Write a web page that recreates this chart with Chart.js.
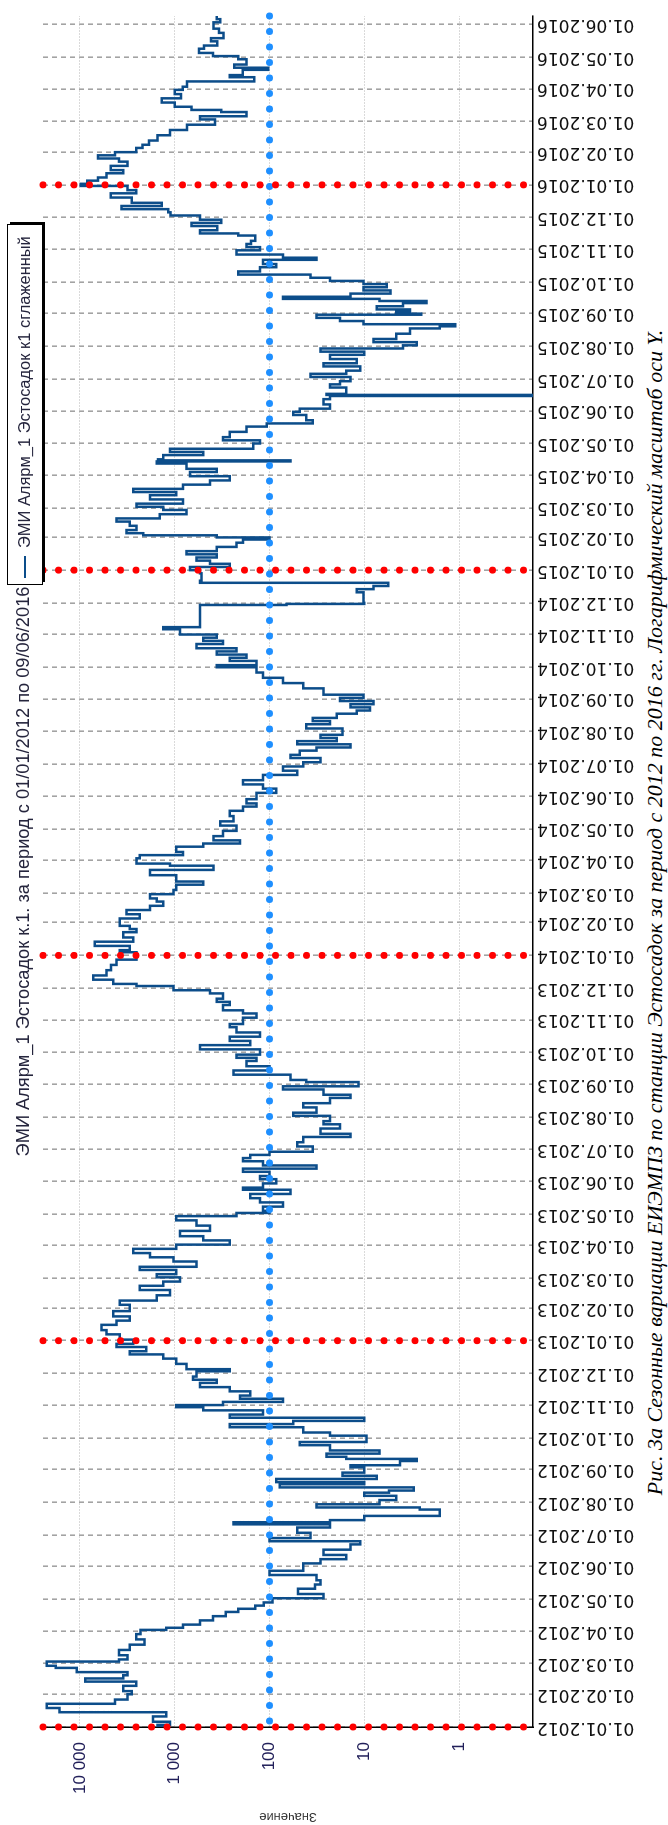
<!DOCTYPE html>
<html>
<head>
<meta charset="utf-8">
<script src="https://cdn.jsdelivr.net/npm/chart.js@4.4.1/dist/chart.umd.min.js"></script>
<style>
  html, body { margin: 0; padding: 0; background: #fff; overflow: hidden; }
  body { width: 668px; height: 1825px; position: relative; }
  /* the figure is laid out landscape and turned a quarter turn counter-clockwise */
  #page { position: absolute; left: 0; top: 1825px; width: 1825px; height: 668px;
          transform-origin: 0 0; transform: rotate(-90deg); background: #fff; }
  #wrap { position: absolute; left: 0; top: 0; width: 1825px; height: 640px; }
  #caption { position: absolute; left: 0; top: 641px; width: 1825px; height: 27px; line-height: 27px;
             text-align: center; white-space: nowrap; color: #000;
             font-family: "Liberation Serif", "Times New Roman", serif; font-style: italic; font-size: 22px; }
</style>
</head>
<body>
<div id="page">
  <div id="wrap"><canvas id="c" width="1825" height="640" style="width:1825px;height:640px"></canvas></div>
  <div id="caption">Рис. 3а Сезонные вариации ЕИЭМПЗ по станции Эстосадок за период с 2012 по 2016 гг. Логарифмический масштаб оси Y.</div>
</div>
<script>
// ---- texts ----
const chartTitle = 'ЭМИ Алярм_1 Эстосадок к.1. за период с 01/01/2012 по 09/06/2016';
const seriesLabel = 'ЭМИ Алярм_1 Эстосадок к1 сглаженный';
const valueAxisTitle = 'Значение';

// ---- period and axis range ----
const periodStart = '01.01.2012';
const periodEnd = '09.06.2016';
const valueMin = 0.166;
const valueMax = 24500;

// ---- tick labels ----
const monthTicks = [
  '01.01.2012','01.02.2012','01.03.2012','01.04.2012','01.05.2012','01.06.2012','01.07.2012','01.08.2012','01.09.2012','01.10.2012','01.11.2012','01.12.2012',
  '01.01.2013','01.02.2013','01.03.2013','01.04.2013','01.05.2013','01.06.2013','01.07.2013','01.08.2013','01.09.2013','01.10.2013','01.11.2013','01.12.2013',
  '01.01.2014','01.02.2014','01.03.2014','01.04.2014','01.05.2014','01.06.2014','01.07.2014','01.08.2014','01.09.2014','01.10.2014','01.11.2014','01.12.2014',
  '01.01.2015','01.02.2015','01.03.2015','01.04.2015','01.05.2015','01.06.2015','01.07.2015','01.08.2015','01.09.2015','01.10.2015','01.11.2015','01.12.2015',
  '01.01.2016','01.02.2016','01.03.2016','01.04.2016','01.05.2016','01.06.2016'
];
const valueTicks = [1, 10, 100, 1000, 10000];
const valueTickLabels = ['1', '10', '100', '1 000', '10 000'];

// ---- reference marks ----
const yearMarks = ['01.01.2012', '01.01.2013', '01.01.2014', '01.01.2015', '01.01.2016'];
const referenceLevel = 100;

// ---- smoothed EMI series, by year (MM-DD / value) ----
const days2012 = ['01-01','01-03','01-06','01-11','01-15','01-19','01-23','01-27','02-01','02-04','02-09','02-13','02-16','02-19','02-22','02-26','02-28',
  '03-03','03-05','03-09','03-14','03-19','03-24','03-29','04-02','04-04','04-07','04-11','04-15','04-19','04-22','04-25','04-28',
  '05-02','05-06','05-11','05-15','05-19','05-24','05-28','06-04','06-08','06-12','06-17','06-22','06-25','06-28',
  '07-03','07-08','07-11','07-13','07-15','07-19','07-25','07-27','07-30','08-03','08-07','08-10','08-12','08-15','08-18','08-20','08-23','08-26','08-29',
  '09-03','09-05','09-09','09-11','09-13','09-16','09-19','09-24','09-27','10-03','10-06','10-11','10-14','10-17','10-20','10-23','10-27','10-30',
  '11-01','11-04','11-07','11-10','11-14','11-18','11-22','11-25','11-28','12-03','12-05','12-10','12-15','12-19','12-22','12-26','12-29'];
const values2012 = [1170,1520,1120,1690,1230,16400,22400,4270,3140,2830,3480,2540,8800,3480,3140,10800,18000,
  22400,3860,3140,3860,2980,2080,2540,2290,1230,815,540,395,290,213,141,115,
  93,27,50,33,29,32,100,44,29,15.5,27,14,11,100,
  37,51,23,240,23,10,1.6,2.6,32,6.9,4.6,10,5.5,3,78,10,85,7.4,17,
  10,14,4.2,2.8,15.5,25,6.9,23,48,9.5,23,44,263,56,10,263,117,500,
  960,310,72,205,160,263,540,360,640,590,263,750,960,1320,2970,2000,4100];

const days2013 = ['01-02','01-07','01-11','01-16','01-20','01-24','01-29','02-04','02-08','02-13','02-18','02-22','02-26',
  '03-02','03-05','03-09','03-12','03-17','03-21','03-25','03-29','04-02','04-06','04-10','04-15','04-20','04-25','04-29',
  '05-02','05-04','05-08','05-12','05-16','05-20','05-24','05-26','05-30','06-03','06-06','06-10','06-13','06-16','06-20','06-23','06-26','06-29',
  '07-04','07-08','07-13','07-16','07-21','07-25','07-28','08-02','08-05','08-10','08-14','08-19','08-22','08-27','08-30',
  '09-03','09-05','09-10','09-14','09-18','09-23','09-26','09-29','10-04','10-08','10-12','10-16','10-20','10-25','10-28',
  '11-03','11-07','11-10','11-15','11-18','11-21','11-26','11-29','12-03','12-05','12-09','12-13','12-18','12-23','12-28'];
const values2013 = [2740,3800,5230,5900,4100,2970,4460,2970,3800,1550,1120,2330,1320,
  880,1550,960,2330,590,1030,1820,2740,960,263,500,880,425,590,960,
  223,100,117,72,126,160,60,190,117,85,126,100,190,32,117,190,160,100,
  35,51,44,14,29,18,27,23,56,32,44,23,14,27,72,
  11.5,41,60,240,100,175,137,223,126,540,160,263,126,223,263,
  190,137,190,310,263,360,310,425,1030,2530,4460,7230,5230,4700,4100];

const days2014 = ['01-04','01-06','01-10','01-14','01-18','01-23','01-26','01-29','02-05','02-09','02-13','02-17','02-21','02-24','02-28',
  '03-04','03-09','03-12','03-18','03-23','03-27','03-29','04-03','04-06','04-09','04-14','04-17','04-20','04-24','04-29',
  '05-04','05-08','05-13','05-18','05-22','05-25','05-29','06-04','06-08','06-12','06-16','06-21','06-25','06-29',
  '07-03','07-07','07-10','07-14','07-17','07-20','07-23','07-26','07-29','08-04','08-08','08-11','08-14','08-18','08-21','08-24','08-27','08-30',
  '09-02','09-05','09-11','09-16','09-21','09-26','10-01','10-03','10-07','10-10','10-13','10-16','10-19','10-23','10-26','10-29',
  '11-01','11-06','11-08','11-11','11-29','11-30','12-01','12-11','12-14','12-17','12-20','12-22','12-29'];
const values2014 = [2530,3800,2970,6950,2740,3480,2530,2970,3800,2330,3220,1820,1320,1550,1820,
  1030,960,500,960,1820,390,1120,2530,2330,815,960,500,205,390,310,
  223,330,240,263,190,137,175,137,85,117,190,117,51,72,
  44,29,60,48,32,14,51,19.5,29,17,41,23,35,19.5,12,8.7,14,8,
  18,10.2,27,44,72,117,137,360,137,263,175,360,223,590,310,500,
  360,880,1320,540,540,66,10,10.2,12,8,5.6,540,520];

const days2015 = ['01-01','01-04','01-07','01-10','01-13','01-16','01-19','01-23','01-27','01-30','02-01','02-03','02-05','02-08','02-12','02-16','02-19','02-23','02-27',
  '03-02','03-05','03-09','03-13','03-16','03-19','03-23','03-27','03-31','04-04','04-07','04-12','04-14','04-15','04-16','04-20','04-23','04-26',
  '05-01','05-04','05-07','05-12','05-17','05-20','05-23','05-28','05-31','06-03','06-07','06-12','06-15','06-16','06-17','06-23','06-26','06-29',
  '07-03','07-06','07-09','07-13','07-16','07-20','07-24','07-27','07-30','08-02','08-05','08-08','08-13','08-18','08-20','08-22','08-25','08-28','08-31',
  '09-01','09-03','09-05','09-08','09-11','09-13','09-15','09-17','09-20','09-23','09-26','09-29','10-02','10-05','10-08','10-11','10-15','10-18','10-22','10-24','10-27','10-31',
  '11-03','11-06','11-09','11-14','11-16','11-19','11-23','11-26','11-29','12-03','12-06','12-09','12-12','12-15','12-20','12-24','12-27','12-31'];
const values2015 = [540,690,263,425,590,360,750,360,223,190,100,360,2150,3220,2530,2970,4100,1440,750,
  1320,2530,815,1820,960,2740,815,425,263,690,360,750,1550,60,1500,1320,500,1120,
  148,126,310,263,175,107,35,41,56,48,23,27,23,0.1,25,15.5,23,18,
  14,37,15.5,11,27,12,23,10,29,3.9,2.8,8,4.6,3.3,1.6,1.1,10.2,18,32,
  2.5,4.6,3.3,7.4,3.9,2.2,6.9,72,14,5.3,10.2,5.8,10.2,23,37,214,126,85,117,32,72,223,
  126,175,157,141,213,540,355,665,322,540,1110,1170,3650,1370,2830,4730,2550,3140];

const days2016 = ['01-02','01-05','01-08','01-12','01-15','01-19','01-23','01-26','01-29','02-01','02-05','02-08','02-12','02-17','02-22','02-27',
  '03-03','03-06','03-10','03-12','03-15','03-19','03-23','03-27','03-31','04-03','04-08','04-12','04-14','04-19','04-21','04-24','04-29',
  '05-02','05-05','05-09','05-12','05-16','05-19','05-24','05-28','06-03','06-06','06-09'];
const values2016 = [9800,8370,6450,5240,3480,4730,3140,3870,6450,4270,2550,2180,1870,1520,1120,740,
  376,540,175,322,665,1000,1370,860,1000,820,740,145,262,192,103,235,175,
  213,395,555,490,355,415,305,340,390,330,360];

// ---- colours ----
const seriesColor = '#0c4d8a';
const referenceColor = '#1e8fff';
const yearColor = '#ff0000';
const textColor = '#25253d';

// ---- helpers ----
const utc = (y, m, d) => Date.UTC(y, m - 1, d);
const fromRu = s => utc(+s.slice(6, 10), +s.slice(3, 5), +s.slice(0, 2));
const fromYearDay = (year, md) => utc(year, +md.slice(0, 2), +md.slice(3, 5));

const yearly = [[2012, days2012, values2012], [2013, days2013, values2013], [2014, days2014, values2014],
                [2015, days2015, values2015], [2016, days2016, values2016]];
const seriesPoints = [];
yearly.forEach(([year, days, vals]) => {
  days.forEach((md, i) => seriesPoints.push({ x: fromYearDay(year, md), y: vals[i] }));
});

const xMin = fromRu(periodStart);
const xMax = fromRu(periodEnd);
const monthTickValues = monthTicks.map(fromRu);

// dotted marker lines (round caps on a zero-length dash give dots)
const dotted = (color, pts) => ({
  data: pts, borderColor: color, borderWidth: 7, borderDash: [0, 15.5], borderCapStyle: 'round',
  pointRadius: 0, fill: false, tension: 0, clip: 8, order: 0
});
const markerSets = yearMarks.map(s => dotted(yearColor, [{ x: fromRu(s), y: valueMax }, { x: fromRu(s), y: valueMin }]));
markerSets.push(dotted(referenceColor, [{ x: xMax, y: referenceLevel }, { x: xMin, y: referenceLevel }]));

const mainSet = {
  label: seriesLabel, data: seriesPoints, borderColor: seriesColor, borderWidth: 2.5,
  pointRadius: 0, stepped: 'after', fill: false, order: 10
};

// title above the plot and the framed legend right after it
const FONT = '"Liberation Sans", Arial, sans-serif';
const fitSize = (ctx, text, width) => {
  ctx.font = '20px ' + FONT;
  return 20 * width / ctx.measureText(text).width;
};
const headerPlugin = {
  id: 'header',
  afterDraw(chart) {
    const { ctx, chartArea: a } = chart;
    ctx.save();
    ctx.textBaseline = 'middle';
    const titleWidth = 570;
    ctx.font = fitSize(ctx, chartTitle, titleWidth).toFixed(2) + 'px ' + FONT;
    const cx = (a.left + a.right) / 2;
    ctx.fillStyle = textColor;
    ctx.textAlign = 'center';
    ctx.fillText(chartTitle, cx, 24);

    const bx = Math.round(cx + titleWidth / 2 + 1), by = 7, bh = 35, bw = 360;
    ctx.fillStyle = '#000';
    ctx.fillRect(bx + 3, by + 3, bw, bh);
    ctx.fillStyle = '#fff';
    ctx.fillRect(bx, by, bw, bh);
    ctx.strokeStyle = '#000';
    ctx.lineWidth = 1;
    ctx.strokeRect(bx + 0.5, by + 0.5, bw, bh);
    ctx.strokeStyle = seriesColor;
    ctx.lineWidth = 2;
    ctx.beginPath();
    ctx.moveTo(bx + 7, by + bh / 2 + 0.5);
    ctx.lineTo(bx + 29, by + bh / 2 + 0.5);
    ctx.stroke();
    ctx.font = fitSize(ctx, seriesLabel, bw - 48).toFixed(2) + 'px ' + FONT;
    ctx.fillStyle = textColor;
    ctx.textAlign = 'left';
    ctx.fillText(seriesLabel, bx + 37, by + bh / 2 + 1);
    ctx.restore();
  }
};

new Chart(document.getElementById('c'), {
  type: 'line',
  data: { datasets: [...markerSets, mainSet] },
  options: {
    responsive: false,
    animation: false,
    devicePixelRatio: 1,
    layout: { padding: { top: 43, right: 7, left: 0, bottom: 0 } },
    plugins: { legend: { display: false }, title: { display: false }, tooltip: { enabled: false } },
    scales: {
      x: {
        type: 'linear',
        position: 'bottom',
        min: xMin,
        max: xMax,
        afterBuildTicks: scale => { scale.ticks = monthTickValues.map(v => ({ value: v })); },
        afterFit: scale => { scale.height = 107; },
        ticks: {
          autoSkip: false, minRotation: 90, maxRotation: 90, padding: 4,
          color: '#111',
          font: { family: 'DejaVu Sans', size: 17 },
          callback: (v, i) => monthTicks[i]
        },
        grid: { color: '#a3a3a3', lineWidth: 1.6, drawTicks: false },
        border: { display: true, color: '#000', width: 1.5, dash: [5, 4] }
      },
      y: {
        type: 'logarithmic',
        min: valueMin,
        max: valueMax,
        afterBuildTicks: scale => { scale.ticks = valueTicks.map(v => ({ value: v, major: true })); },
        afterFit: scale => { scale.width = 98; },
        ticks: {
          padding: 15,
          color: '#22205a',
          font: { family: 'Liberation Sans', size: 17 },
          callback: v => valueTickLabels[valueTicks.indexOf(v)]
        },
        grid: { color: '#b5b5b5', lineWidth: 1, drawTicks: false },
        border: { display: true, color: '#000', width: 1.5, dash: [1, 2] },
        title: { display: true, text: valueAxisTitle, color: '#333', padding: { top: 1, bottom: 0 },
                 font: { family: 'Liberation Sans', size: 13 } }
      }
    }
  },
  plugins: [headerPlugin]
});
</script>
</body>
</html>
